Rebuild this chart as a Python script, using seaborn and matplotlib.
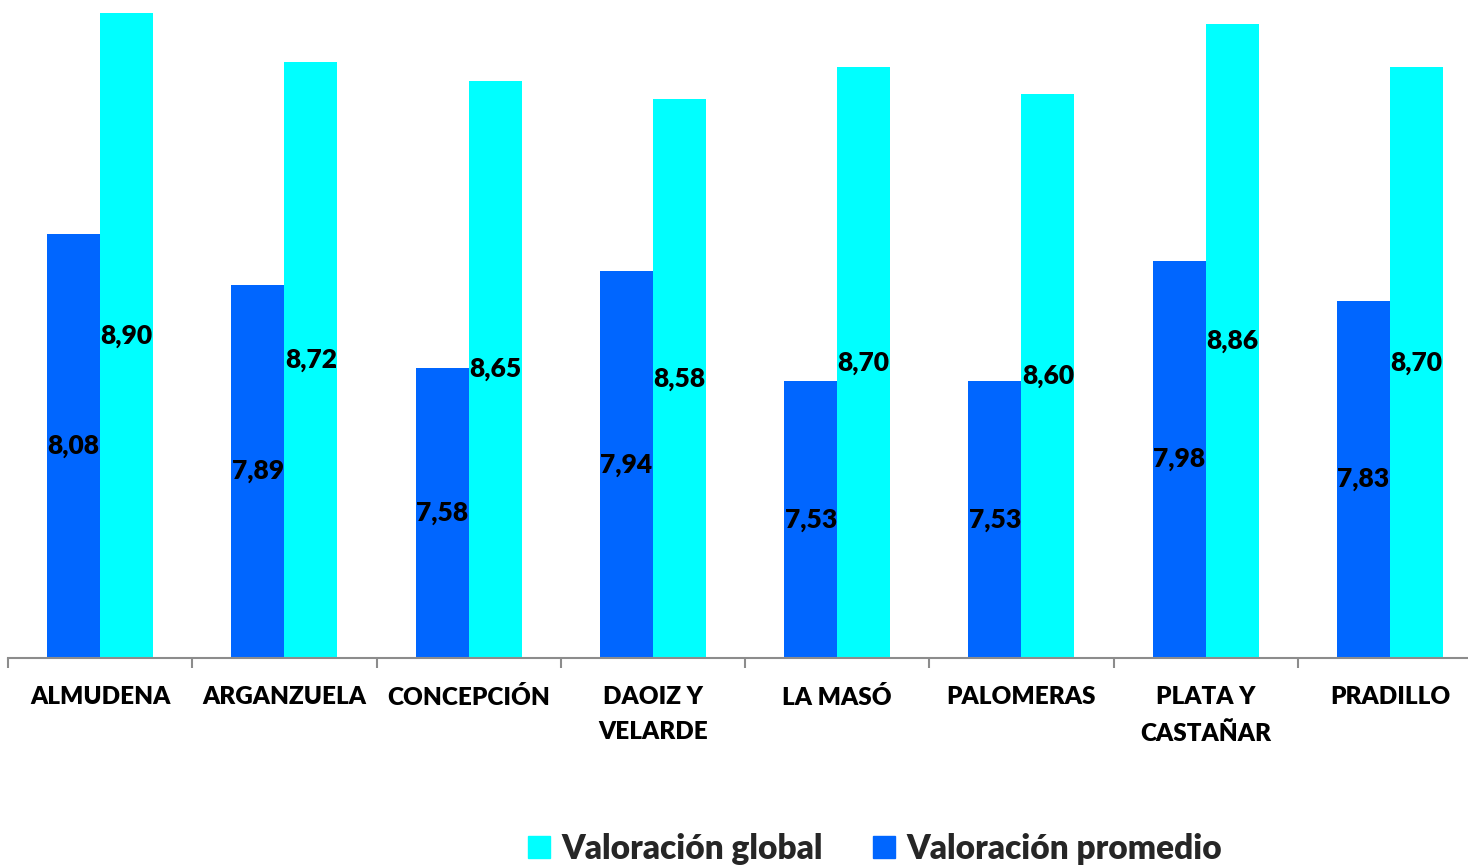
import matplotlib
matplotlib.use("Agg")
import matplotlib.pyplot as plt
from matplotlib.patches import Patch
import seaborn as sns
import pandas as pd

centros = ["ALMUDENA", "ARGANZUELA", "CONCEPCIÓN", "DAOIZ Y\nVELARDE", "LA MASÓ",
           "PALOMERAS", "PLATA Y\nCASTAÑAR", "PRADILLO"]
valoracion_promedio = [8.08, 7.89, 7.58, 7.94, 7.53, 7.53, 7.98, 7.83]
valoracion_global = [8.90, 8.72, 8.65, 8.58, 8.70, 8.60, 8.86, 8.70]
series = ["Valoración promedio", "Valoración global"]
colores = {"Valoración promedio": "#0066FF", "Valoración global": "#00FFFF"}

df = pd.DataFrame({
    "centro": centros * 2,
    "serie": [series[0]] * len(centros) + [series[1]] * len(centros),
    "valor": valoracion_promedio + valoracion_global,
})

sns.set_theme(style="white")
plt.rcParams["font.family"] = ["Lato", "DejaVu Sans"]

W, H = 1468, 866
fig = plt.figure(figsize=(W / 100, H / 100), dpi=100)
# the plot area runs a little past the right edge of the canvas
ax = fig.add_axes([8 / W, (H - 658) / H, (1482 - 8) / W, 658 / H])

ymin = 6.5
sns.barplot(data=df, x="centro", y="valor", hue="serie", hue_order=series,
            palette=colores, width=0.575, saturation=1, ax=ax, legend=False,
            errorbar=None, linewidth=0, edgecolor="none")
ax.set_ylim(ymin, 8.95)
ax.set_xlim(-0.5, len(centros) - 0.5)

# value labels centred inside each bar
for cont in ax.containers:
    for bar in cont:
        h = bar.get_height()
        x = bar.get_x() + bar.get_width() / 2
        ax.text(x, (ymin + h) / 2, f"{h:.2f}".replace(".", ","), ha="center",
                va="center", fontsize=19, fontweight=800, color="black")

ax.set_xlabel("")
ax.set_ylabel("")
ax.set_yticks([])
for side in ["top", "right", "left"]:
    ax.spines[side].set_visible(False)
ax.spines["bottom"].set_color("#8c8c8c")
ax.spines["bottom"].set_linewidth(1.5)

ax.set_xticks(range(len(centros)))
ax.set_xticklabels(centros, fontsize=17.5, fontweight=800, color="black",
                   linespacing=1.75)
ax.tick_params(axis="x", which="major", length=0, pad=20)
ax.set_xticks([i - 0.5 for i in range(len(centros) + 1)], minor=True)
ax.tick_params(axis="x", which="minor", length=7, width=1.5, color="#8c8c8c",
               bottom=True)

handles = [Patch(color=colores["Valoración global"], label="Valoración global"),
           Patch(color=colores["Valoración promedio"], label="Valoración promedio")]
fig.legend(handles=handles, loc="center", bbox_to_anchor=(875 / W, 1 - 849 / H),
           ncol=2, frameon=False, prop={"family": "Lato", "weight": 800, "size": 24},
           handlelength=0.65, handleheight=0.65, handletextpad=0.35, columnspacing=1.5)

fig.savefig("out.png", dpi=100)
